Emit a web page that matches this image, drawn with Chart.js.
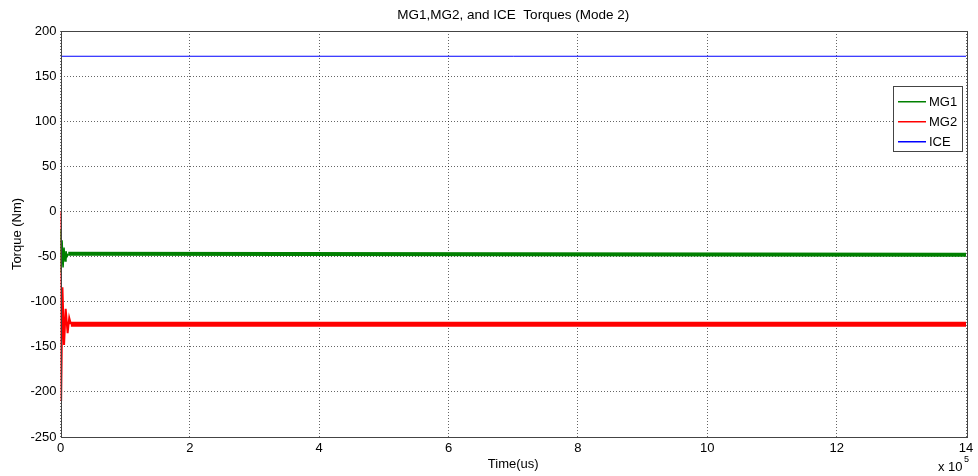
<!DOCTYPE html>
<html>
<head>
<meta charset="utf-8">
<script src="https://cdn.jsdelivr.net/npm/chart.js@4.4.1/dist/chart.umd.min.js"></script>
<style>
  html, body { margin: 0; padding: 0; background: #fff; }
  #wrap { width: 978px; height: 476px; }
</style>
</head>
<body>
<div id="wrap"><canvas id="chart" width="978" height="476"></canvas></div>
<script>
// values (time in us, torque in Nm)
const mg1Time = [0, 1000, 2500, 4000, 5500, 7000, 8500, 10000, 12000, 1400000];
const mg1Torque = [-20, -68, -32, -62, -40, -55, -44, -50, -47, -48];
const mg2Time = [0, 500, 1000, 3000, 5500, 8000, 11000, 13500, 16000, 1400000];
const mg2Torque = [0, -150, -210, -84, -148, -108, -135, -118, -125, -125];
const iceTime = [0, 1400000];
const iceTorque = [172, 172];
const yTicks = [-250, -200, -150, -100, -50, 0, 50, 100, 150, 200];
const xTicks = [0, 2, 4, 6, 8, 10, 12, 14]; // x 10^5

const FONT = '"Liberation Sans", Arial, sans-serif';
const seriesNames = ['MG1', 'MG2', 'ICE'];
const seriesColors = ['#008000', '#ff0000', '#0000ff'];

const pts = (xs, ys) => xs.map((x, i) => ({x, y: ys[i]}));

// thin while the transient rings, thick once the noisy band settles
const bandWidth = (thin, thick, from) => ctx =>
  ctx.p0.parsed.x >= from ? thick : thin;

const frame = {
  id: 'frame',
  afterDraw(chart) {
    const {ctx, chartArea: a} = chart;
    ctx.save();
    ctx.setLineDash([]);
    ctx.strokeStyle = '#444';
    ctx.lineWidth = 1;
    ctx.strokeRect(Math.round(a.left) + 0.5, Math.round(a.top) + 0.5,
      Math.round(a.right - a.left), Math.round(a.bottom - a.top));

    // title
    ctx.fillStyle = '#000';
    ctx.font = '13.5px ' + FONT;
    ctx.textAlign = 'center';
    ctx.textBaseline = 'middle';
    ctx.fillText('MG1,MG2, and ICE  Torques (Mode 2)', (a.left + a.right) / 2, 15);

    // axis titles
    ctx.font = '13px ' + FONT;
    ctx.fillText('Time(us)', (a.left + a.right) / 2, 464);
    ctx.save();
    ctx.translate(17, (a.top + a.bottom) / 2);
    ctx.rotate(-Math.PI / 2);
    ctx.fillText('Torque (Nm)', 0, 0);
    ctx.restore();

    // exponent
    ctx.textAlign = 'left';
    ctx.fillText('x 10', 938, 467);
    ctx.font = '9px ' + FONT;
    ctx.fillText('5', 964, 460);

    // legend box
    const lx = 893, ly = 86, lw = 69, lh = 65;
    ctx.fillStyle = '#fff';
    ctx.fillRect(lx, ly, lw, lh);
    ctx.strokeStyle = '#444';
    ctx.strokeRect(lx + 0.5, ly + 0.5, lw, lh);
    ctx.font = '13px ' + FONT;
    ctx.textBaseline = 'middle';
    seriesNames.forEach((name, i) => {
      const y = 101 + i * 20;
      ctx.fillStyle = seriesColors[i];
      ctx.fillRect(898, y, 28, 1.5);
      ctx.fillStyle = '#000';
      ctx.fillText(name, 929, y + 1);
    });
    ctx.restore();
  }
};

new Chart(document.getElementById('chart'), {
  type: 'line',
  data: {
    datasets: [
      {
        label: seriesNames[0],
        data: pts(mg1Time, mg1Torque),
        borderColor: seriesColors[0],
        borderWidth: 1.5,
        segment: {borderWidth: bandWidth(1.5, 4, 12000)}
      },
      {
        label: seriesNames[1],
        data: pts(mg2Time, mg2Torque),
        borderColor: seriesColors[1],
        borderWidth: 2,
        segment: {borderWidth: bandWidth(2, 5, 16000)}
      },
      {
        label: seriesNames[2],
        data: pts(iceTime, iceTorque),
        borderColor: seriesColors[2],
        borderWidth: 1
      }
    ]
  },
  options: {
    responsive: false,
    animation: false,
    parsing: false,
    elements: {point: {radius: 0}, line: {tension: 0}},
    layout: {padding: {left: 0, top: 31, right: 12, bottom: 0}},
    plugins: {legend: {display: false}, tooltip: {enabled: false}},
    scales: {
      x: {
        type: 'linear',
        min: 0,
        max: 1400000,
        afterFit: s => { s.height = 39; },
        afterBuildTicks: s => { s.ticks = xTicks.map(v => ({value: v * 1e5})); },
        ticks: {
          color: '#000',
          font: {family: FONT, size: 13},
          padding: 4,
          maxRotation: 0,
          callback: v => String(v / 1e5)
        },
        grid: {
          color: 'rgba(0,0,0,0.6)',
          tickLength: 0,
          drawTicks: false
        },
        border: {display: false, dash: [1, 2]}
      },
      y: {
        min: -250,
        max: 200,
        afterFit: s => { s.width = 60.5; },
        afterBuildTicks: s => { s.ticks = yTicks.map(v => ({value: v})); },
        ticks: {
          color: '#000',
          font: {family: FONT, size: 13},
          padding: 4
        },
        grid: {
          color: 'rgba(0,0,0,0.6)',
          tickLength: 0,
          drawTicks: false
        },
        border: {display: false, dash: [1, 2]}
      }
    }
  },
  plugins: [frame]
});
</script>
</body>
</html>
